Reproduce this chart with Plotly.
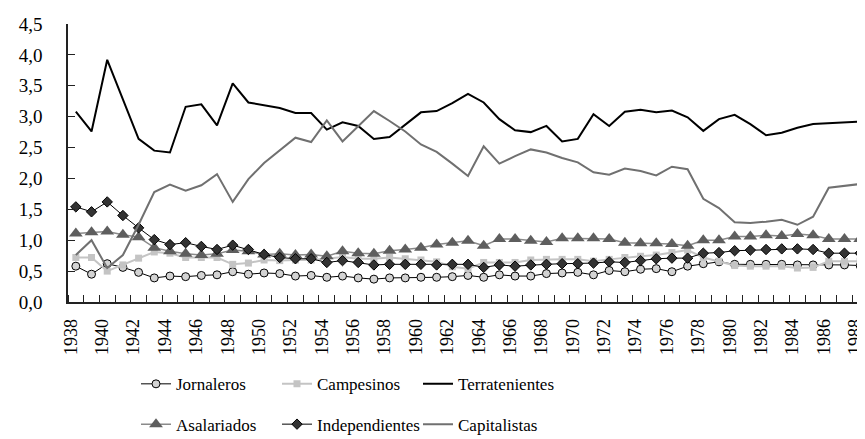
import plotly.graph_objects as go

years = list(range(1938, 1989))

jornaleros = [0.58, 0.45, 0.62, 0.56, 0.48, 0.39, 0.42, 0.41, 0.43, 0.44,
              0.49, 0.45, 0.47, 0.46, 0.42, 0.43, 0.40, 0.42, 0.39, 0.37,
              0.39, 0.39, 0.40, 0.40, 0.41, 0.43, 0.40, 0.44, 0.42, 0.42,
              0.46, 0.47, 0.48, 0.44, 0.51, 0.49, 0.53, 0.54, 0.49, 0.58,
              0.62, 0.65, 0.61, 0.61, 0.61, 0.61, 0.60, 0.60, 0.60, 0.60, 0.59]

campesinos = [0.72, 0.72, 0.50, 0.60, 0.71, 0.81, 0.79, 0.72, 0.72, 0.72,
              0.61, 0.63, 0.68, 0.67, 0.68, 0.68, 0.70, 0.73, 0.70, 0.70,
              0.72, 0.70, 0.68, 0.65, 0.57, 0.54, 0.64, 0.64, 0.64, 0.68,
              0.69, 0.69, 0.69, 0.66, 0.69, 0.72, 0.74, 0.76, 0.80, 0.84,
              0.72, 0.66, 0.59, 0.58, 0.58, 0.58, 0.55, 0.56, 0.66, 0.66, 0.66]

terratenientes = [3.08, 2.76, 3.92, 3.28, 2.64, 2.45, 2.42, 3.16, 3.20, 2.86,
                  3.54, 3.23, 3.18, 3.14, 3.06, 3.06, 2.79, 2.91, 2.85, 2.64,
                  2.67, 2.87, 3.07, 3.09, 3.22, 3.37, 3.23, 2.96, 2.78, 2.75,
                  2.85, 2.60, 2.64, 3.04, 2.85, 3.08, 3.11, 3.07, 3.10, 2.99,
                  2.77, 2.96, 3.03, 2.88, 2.70, 2.74, 2.82, 2.88, 2.89, 2.90, 2.92]

asalariados = [1.11, 1.13, 1.14, 1.09, 1.05, 0.88, 0.82, 0.78, 0.76, 0.78,
               0.84, 0.82, 0.77, 0.78, 0.76, 0.77, 0.74, 0.82, 0.79, 0.78,
               0.83, 0.85, 0.88, 0.93, 0.96, 0.99, 0.91, 1.02, 1.02, 0.99,
               0.97, 1.03, 1.03, 1.03, 1.02, 0.96, 0.95, 0.95, 0.94, 0.91,
               1.00, 1.00, 1.06, 1.06, 1.08, 1.07, 1.10, 1.08, 1.02, 1.02, 1.02]

independientes = [1.54, 1.46, 1.62, 1.40, 1.20, 1.01, 0.93, 0.96, 0.90, 0.85,
                  0.92, 0.85, 0.77, 0.72, 0.70, 0.70, 0.64, 0.67, 0.64, 0.60,
                  0.61, 0.61, 0.61, 0.60, 0.61, 0.61, 0.56, 0.60, 0.58, 0.60,
                  0.61, 0.62, 0.62, 0.63, 0.65, 0.64, 0.67, 0.70, 0.71, 0.71,
                  0.79, 0.80, 0.83, 0.84, 0.85, 0.86, 0.86, 0.85, 0.79, 0.79, 0.79]

capitalistas = [0.76, 1.00, 0.55, 0.76, 1.25, 1.78, 1.90, 1.80, 1.89, 2.07,
                1.62, 1.99, 2.25, 2.45, 2.66, 2.59, 2.94, 2.60, 2.84, 3.09,
                2.93, 2.76, 2.55, 2.43, 2.24, 2.04, 2.52, 2.24, 2.36, 2.47,
                2.42, 2.33, 2.26, 2.10, 2.06, 2.16, 2.12, 2.05, 2.19, 2.15,
                1.67, 1.52, 1.29, 1.28, 1.30, 1.33, 1.25, 1.38, 1.85, 1.88, 1.91]

y_ticks = [0, 0.5, 1, 1.5, 2, 2.5, 3, 3.5, 4, 4.5]
y_ticktext = [f"{v:.1f}".replace(".", ",") for v in y_ticks]
x_label_years = years[::2]

FONT = "Liberation Serif"

fig = go.Figure()

fig.add_trace(go.Scatter(
    x=years, y=jornaleros, name="Jornaleros", mode="lines+markers",
    line=dict(color="black", width=1),
    marker=dict(symbol="circle", size=8, color="#d3d3d3", line=dict(color="black", width=1)),
    legend="legend"))
fig.add_trace(go.Scatter(
    x=years, y=campesinos, name="Campesinos", mode="lines+markers",
    line=dict(color="#c4c4c4", width=2),
    marker=dict(symbol="square", size=7, color="#c4c4c4"),
    legend="legend"))
fig.add_trace(go.Scatter(
    x=years, y=terratenientes, name="Terratenientes", mode="lines",
    line=dict(color="black", width=2),
    legend="legend"))
fig.add_trace(go.Scatter(
    x=years, y=asalariados, name="Asalariados", mode="lines+markers",
    line=dict(color="#8a8a8a", width=1.5),
    marker=dict(symbol="triangle-up", size=12, color="#5e5e5e"),
    legend="legend2"))
fig.add_trace(go.Scatter(
    x=years, y=independientes, name="Independientes", mode="lines+markers",
    line=dict(color="black", width=1),
    marker=dict(symbol="diamond", size=8, color="#333333", line=dict(color="black", width=1)),
    legend="legend2"))
fig.add_trace(go.Scatter(
    x=years, y=capitalistas, name="Capitalistas", mode="lines",
    line=dict(color="#707070", width=2),
    legend="legend2"))

boundaries = [y - 0.5 for y in years] + [years[-1] + 0.5]

legend_common = dict(
    orientation="h", font=dict(family=FONT, size=17, color="black"),
    bgcolor="rgba(0,0,0,0)", entrywidth=96, entrywidthmode="pixels",
    xanchor="left", yanchor="middle", itemclick=False, itemdoubleclick=False,
)

fig.update_layout(
    width=865, height=439,
    margin=dict(l=60, r=5, t=16, b=145),
    paper_bgcolor="white", plot_bgcolor="white",
    font=dict(family=FONT, size=17, color="black"),
    showlegend=True,
    legend=dict(x=0.085, y=-0.296, **legend_common),
    legend2=dict(x=0.085, y=-0.441, **legend_common),
    xaxis=dict(
        range=[boundaries[0], boundaries[-1]],
        tickmode="array", tickvals=x_label_years, ticktext=[str(y) for y in x_label_years],
        tickangle=-90, ticks="", showgrid=False, zeroline=False,
        showline=True, linecolor="#222222", linewidth=1.5,
        ticklabelstandoff=8, ticklabelshift=-5,
        tickfont=dict(family=FONT, size=18, color="black"),
        minor=dict(tickmode="array", tickvals=boundaries, ticks="inside", ticklen=7,
                   tickcolor="#222222", tickwidth=1, showgrid=False),
    ),
    yaxis=dict(
        range=[0, 4.5], tickmode="array", tickvals=y_ticks, ticktext=y_ticktext,
        ticks="inside", ticklen=7, tickcolor="#222222", tickwidth=1,
        showgrid=False, zeroline=False,
        showline=True, linecolor="#222222", linewidth=1.5,
        ticklabelstandoff=20,
        tickfont=dict(family=FONT, size=19, color="black"),
    ),
)

fig.write_html("out.html")
